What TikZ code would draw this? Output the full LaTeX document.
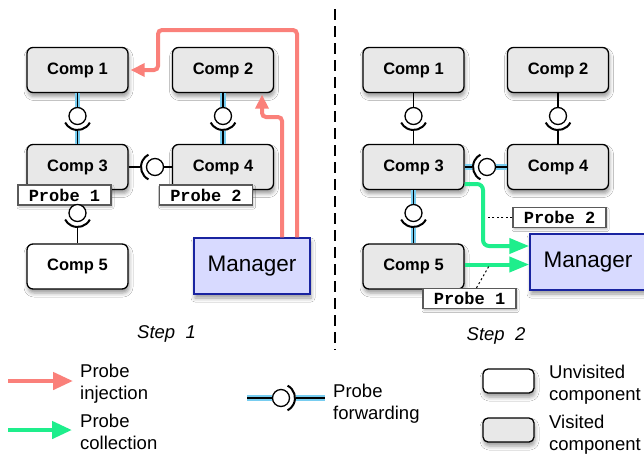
\documentclass[tikz,border=0pt]{standalone}
\usepackage{fontspec}
\setmainfont{Liberation Sans}
\newfontfamily\probefont{Liberation Mono}
\usetikzlibrary{arrows.meta,shadows.blur,calc}

\definecolor{visitedgray}{RGB}{232,232,232}
\definecolor{mgrfill}{RGB}{216,218,255}
\definecolor{mgrline}{RGB}{25,35,160}
\definecolor{injred}{RGB}{250,128,122}
\definecolor{colgreen}{RGB}{30,238,140}
\definecolor{fwdblue}{RGB}{120,205,240}
\definecolor{probegray}{RGB}{90,90,90}

\begin{document}
\begin{tikzpicture}[x=1pt,y=-1pt,
  boxshadow/.style={blur shadow={shadow xshift=1pt,shadow yshift=-4pt,shadow blur radius=4pt,shadow opacity=40}},
  comp/.style={draw, rounded corners=6pt, line width=1.3pt, fill=visitedgray,
    minimum width=101pt, minimum height=45pt, inner sep=0pt,
    font=\fontsize{16.5}{19}\selectfont\bfseries, boxshadow},
  fresh/.style={comp, fill=white},
  manager/.style={draw=mgrline, fill=mgrfill, line width=1.5pt,
    minimum width=116pt, minimum height=56pt, inner sep=0pt,
    font=\fontsize{22.5}{26}\selectfont, boxshadow},
  probelabel/.style={draw=probegray, fill=white, line width=1.2pt,
    minimum width=93pt, minimum height=20pt, inner sep=0pt,
    font=\probefont\fontsize{17}{17}\selectfont\bfseries,
    blur shadow={shadow xshift=1pt,shadow yshift=-2pt,shadow blur radius=2pt,shadow opacity=25}},
  ball/.style={circle, draw, fill=white, line width=1.3pt, minimum size=17pt, inner sep=0pt},
  wire/.style={draw, line width=1.3pt},
  fwd/.style={wire, preaction={draw=fwdblue, line width=5.5pt}},
  socket/.pic={\draw[line width=2pt] ({#1-62}:14) arc[start angle={#1-62}, end angle={#1+62}, radius=14];},
  inject/.style={draw=injred, line width=4pt, rounded corners=4pt, -{Triangle[length=14pt,width=13pt]}},
  collect/.style={draw=colgreen, line width=4pt, rounded corners=6pt, -{Triangle[length=20pt,width=15pt]}},
  legendarrow/.style={line width=4.5pt, -{Triangle[length=20pt,width=17pt]}},
  leader/.style={draw, line width=1pt, dash pattern=on 2pt off 2.5pt},
  legendtext/.style={anchor=north west, align=left, inner sep=0pt, font=\fontsize{18.5}{22}\selectfont},
  steptext/.style={anchor=base, inner sep=0pt, font=\fontsize{18.5}{21}\selectfont\itshape},
]
\fill[white] (0,0) rectangle (644,453);
\useasboundingbox (0,0) rectangle (644,453);

% ---------------- Step 1 ----------------
\node[comp]  (c1a) at (77.5,70)    {Comp 1};
\node[comp]  (c2a) at (223,70)     {Comp 2};
\node[comp]  (c3a) at (77.5,167)   {Comp 3};
\node[comp]  (c4a) at (223,167)    {Comp 4};
\node[fresh] (c5a) at (77.5,266.5) {Comp 5};
\node[manager] (mgra) at (252,266) {Manager};

% bindings
\node[ball] (b13a) at (c1a |- {(0,116)}) {};
\pic at (b13a) {socket=90};
\path[fwd] (c1a.south) -- (b13a.north);
\path[fwd] ($(b13a)+(0,15)$) -- (c3a.north);

\node[ball] (b24a) at (c2a |- {(0,116)}) {};
\pic at (b24a) {socket=90};
\path[fwd] (c2a.south) -- (b24a.north);
\path[fwd] ($(b24a)+(0,15)$) -- (c4a.north);

\node[ball] (b34a) at (155,167) {};
\pic at (b34a) {socket=180};
\path[wire] (c3a.east) -- ($(b34a)+(-15,0)$);
\path[wire] (b34a.east) -- (c4a.west);

\path[wire] (c3a.south) -- (c3a |- {(0,205)});
\node[probelabel] (pr1a) at (64.5,195) {Probe 1};
\node[probelabel] (pr2a) at (206,195)  {Probe 2};
\node[ball] (b35a) at (c3a |- {(0,213)}) {};
\pic at (b35a) {socket=90};
\path[wire] ($(b35a)+(0,15)$) -- (c5a.north);

% probe injection
\draw[inject, shorten >=2pt] (mgra.north -| {(297,0)}) -- (297,30) -- (158,30) -- (158,70) -- (c1a.east);
\draw[inject, shorten >=1.5pt] (mgra.north -| {(282,0)}) -- (282,117) -- (262,117) -- (c2a.south -| {(262,0)});

\node[steptext] (s1) at (166.5,338) {Step~~1};

% separator
\draw[line width=1.5pt, dash pattern=on 11pt off 6pt] (335,9) -- (335,350);

% ---------------- Step 2 ----------------
\node[comp] (c1b) at (413.5,70)    {Comp 1};
\node[comp] (c2b) at (558,70)      {Comp 2};
\node[comp] (c3b) at (413.5,167)   {Comp 3};
\node[comp] (c4b) at (558,167)     {Comp 4};
\node[comp] (c5b) at (413.5,266.5) {Comp 5};
\node[manager] (mgrb) at (588,262) {Manager};

\node[ball] (b13b) at (c1b |- {(0,116)}) {};
\pic at (b13b) {socket=90};
\path[wire] (c1b.south) -- (b13b.north);
\path[wire] ($(b13b)+(0,15)$) -- (c3b.north);

\node[ball] (b24b) at (c2b |- {(0,116)}) {};
\pic at (b24b) {socket=90};
\path[wire] (c2b.south) -- (b24b.north);
\path[wire] ($(b24b)+(0,15)$) -- (c4b.north);

\node[ball] (b34b) at (487,167) {};
\pic at (b34b) {socket=180};
\path[fwd] (c3b.east) -- ($(b34b)+(-15,0)$);
\path[fwd] (b34b.east) -- (c4b.west);

\node[ball] (b35b) at (c3b |- {(0,213)}) {};
\pic at (b35b) {socket=90};
\path[fwd] (c3b.south) -- (b35b.north);
\path[fwd] ($(b35b)+(0,15)$) -- (c5b.north);

% probe collection
\coordinate (gA1) at (483,184);
\coordinate (gA2) at (483,246);
\draw[collect] (c3b.east |- gA1) -- (gA1) -- (gA2) -- (mgrb.west |- gA2);
\coordinate (gB) at (0,264.5);
\draw[collect] (c5b.east |- gB) -- (mgrb.west |- gB);

\node[probelabel] (pr2b) at (559.5,217.5) {Probe 2};
\node[probelabel] (pr1b) at (469.5,298.5) {Probe 1};
\coordinate (tap2) at (486,217.5);
\coordinate (tap1) at (489,266);
\draw[leader] (pr2b.west) -- (tap2);
\draw[leader] ($(pr1b.north)+(7,0)$) -- (tap1);

\node[steptext] (s2) at (496,340) {Step~~2};

% ---------------- Legend ----------------
\coordinate (injS) at (8,381);
\coordinate (injE) at (73,381);
\draw[legendarrow, draw=injred, injred] (injS) -- (injE);
\node[legendtext] (injT) at (80,364) {Probe\\injection};

\coordinate (colS) at (8,430);
\coordinate (colE) at (72,430);
\draw[legendarrow, draw=colgreen, colgreen] (colS) -- (colE);
\node[legendtext] (colT) at (80,414) {Probe\\collection};

\coordinate (fwdS) at (247,398);
\coordinate (fwdE) at (325,398);
\node[ball] (fb) at (281,398) {};
\pic at (fb) {socket=0};
\path[fwd] (fwdS) -- (fb.west);
\path[fwd] ($(fb)+(15,0)$) -- (fwdE);
\node[legendtext] (fwdT) at (333,384) {Probe\\forwarding};

\node[fresh, minimum width=51pt, minimum height=24pt, rounded corners=5pt] (lu) at (508.5,381) {};
\node[legendtext] (luT) at (549,365) {Unvisited\\component};
\node[comp, minimum width=51pt, minimum height=24pt, rounded corners=5pt] (lv) at (508.5,430) {};
\node[legendtext] (lvT) at (549,415) {Visited\\component};
\end{tikzpicture}
\end{document}
